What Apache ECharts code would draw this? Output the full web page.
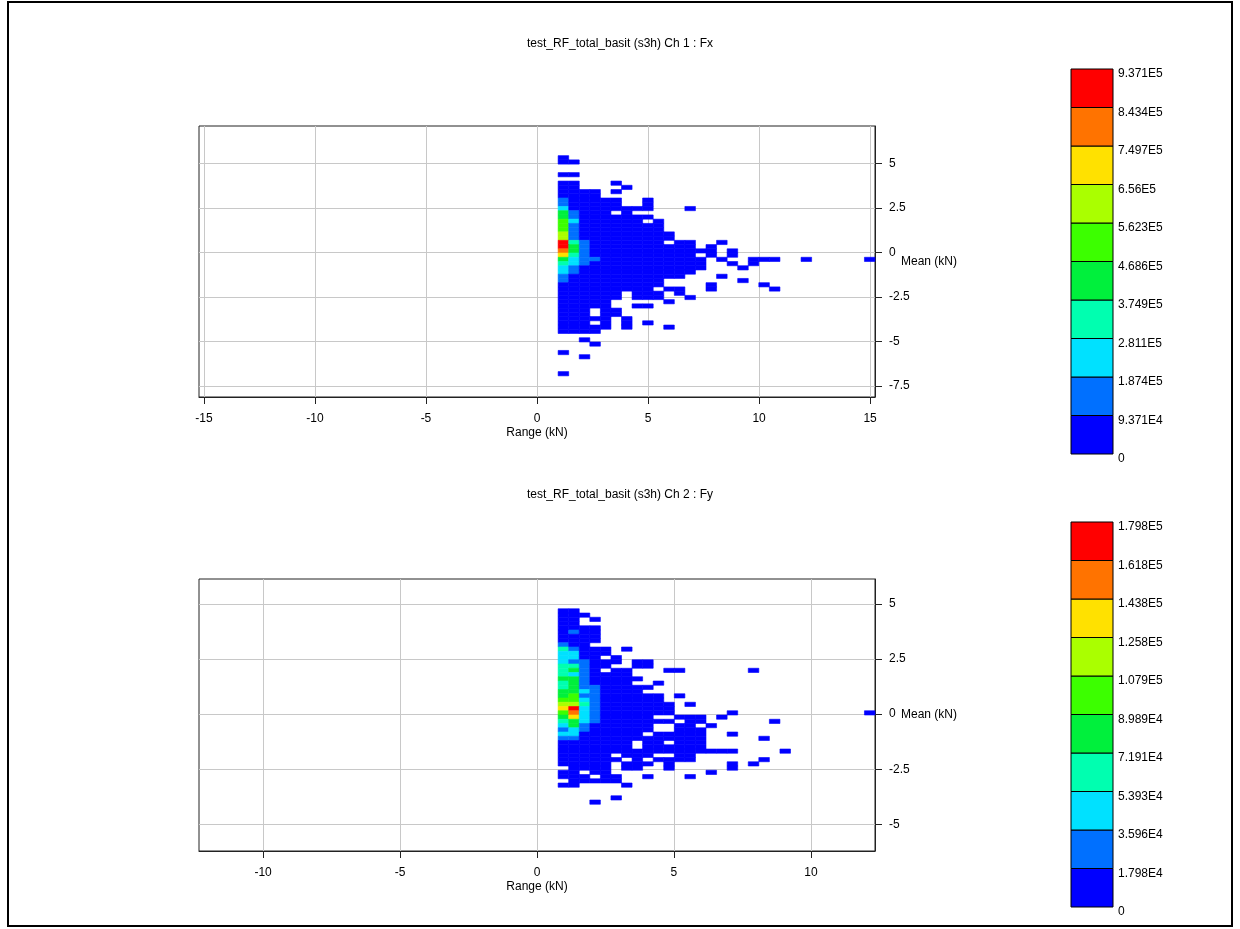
<!DOCTYPE html>
<html>
<head>
<meta charset="utf-8">
<title>Rainflow range-mean</title>
<script src="https://cdn.jsdelivr.net/npm/echarts@6/dist/echarts.min.js"></script>
<style>
html, body { margin: 0; padding: 0; background: #fff; }
#chart { width: 1240px; height: 929px; }
</style>
</head>
<body>
<div id="chart"></div>
<script>
// titles
var fxTitle = 'test_RF_total_basit (s3h) Ch 1 : Fx';
var fyTitle = 'test_RF_total_basit (s3h) Ch 2 : Fy';

// histogram bins: 32 range bins over [0, max range], 64 mean bins over the mean extent
var fxRangeMax = 15.22;
var fxMeanExtent = [-8.11, 7.11];
var fyRangeMax = 12.34;
var fyMeanExtent = [-6.21, 6.13];

// tick labels
var fxRangeTicks = [-15, -10, -5, 0, 5, 10, 15];
var fxMeanTicks = [-7.5, -5, -2.5, 0, 2.5, 5];
var fyRangeTicks = [-10, -5, 0, 5, 10];
var fyMeanTicks = [-5, -2.5, 0, 2.5, 5];

// colour scale
var fxMaxCount = 9.371e5;
var fyMaxCount = 1.798e5;
var fxBandLabels = ['0', '9.371E4', '1.874E5', '2.811E5', '3.749E5', '4.686E5', '5.623E5', '6.56E5', '7.497E5', '8.434E5', '9.371E5'];
var fyBandLabels = ['0', '1.798E4', '3.596E4', '5.393E4', '7.191E4', '8.989E4', '1.079E5', '1.258E5', '1.438E5', '1.618E5', '1.798E5'];
var bandColors = ['#0000ff', '#0070ff', '#00e1ff', '#00ffb0', '#00f03c', '#3cff00', '#aaff00', '#ffe100', '#ff7300', '#ff0000'];

// cells: [mean bin (0 = top), first range bin, colour band per range bin ('.' = empty)]
var fxCells = [
    [7, 2, '0'],
    [8, 2, '00'],
    [11, 2, '00'],
    [13, 2, '00...0'],
    [14, 2, '00....0'],
    [15, 2, '0000.0'],
    [16, 2, '0000'],
    [17, 2, '100000..0'],
    [18, 2, '100000..0'],
    [19, 2, '200000000...0'],
    [20, 2, '41000.0'],
    [21, 2, '410000000'],
    [22, 2, '52000000.0'],
    [23, 2, '5100000000'],
    [24, 2, '5100000000'],
    [25, 2, '61000000000'],
    [26, 2, '61000000000'],
    [27, 2, '9310000000.00..0'],
    [28, 2, '9410000000000.0'],
    [29, 2, '841000000000000.0'],
    [30, 2, '7310000000000.0.0'],
    [31, 2, '42110000000000.0..000..0.....0'],
    [32, 2, '32100000000000..0.0'],
    [33, 2, '21000000000000...0'],
    [34, 2, '2100000000000'],
    [35, 2, '100000000000...0'],
    [36, 2, '1000000000.......0'],
    [37, 2, '0000000000....0....0'],
    [38, 2, '000000000.00..0.....0'],
    [39, 2, '000000.000.0'],
    [40, 2, '000000.000..0'],
    [41, 2, '00000.....0'],
    [42, 2, '00000..00'],
    [43, 2, '000.00'],
    [44, 2, '000.00'],
    [45, 2, '00000.0'],
    [46, 2, '000.0.0.0'],
    [47, 2, '00000.0...0'],
    [48, 2, '0000'],
    [50, 4, '0'],
    [51, 5, '0'],
    [53, 2, '0'],
    [54, 4, '0'],
    [58, 2, '0']
];

var fyCells = [
    [7, 2, '00'],
    [8, 2, '000'],
    [9, 2, '00.0'],
    [10, 2, '00'],
    [11, 2, '0000'],
    [12, 2, '0100'],
    [13, 2, '0000'],
    [14, 2, '0000'],
    [15, 2, '100'],
    [16, 2, '31000.0'],
    [17, 2, '22000'],
    [18, 2, '2200.0'],
    [19, 2, '211000.00'],
    [20, 2, '33100..00'],
    [21, 2, '3410.00...00......0'],
    [22, 2, '3210000'],
    [23, 2, '44100000'],
    [24, 2, '3410000..0'],
    [25, 2, '341100000'],
    [26, 2, '44210000'],
    [27, 2, '4511000000.0'],
    [28, 2, '5521000000'],
    [29, 2, '66310000000.0'],
    [30, 2, '79210000000'],
    [31, 2, '58210000000.....0............0'],
    [32, 2, '472100000..000.0'],
    [33, 2, '34210000000.00......0'],
    [34, 2, '241000000..00.0'],
    [35, 2, '121000000..000'],
    [36, 2, '22000000.00000..0'],
    [37, 2, '11000000000000.....0'],
    [38, 2, '0000000.00.000'],
    [39, 2, '0000000.000000'],
    [40, 2, '00000000000000000....0'],
    [41, 2, '00000.000..00'],
    [42, 2, '000000.0.0000......0'],
    [43, 2, '00000.000.0.....0.0'],
    [44, 3, '0000.00..0.....0'],
    [45, 2, '00.00.........0'],
    [46, 2, '000.00..0...0'],
    [47, 3, '00000'],
    [48, 2, '00....0'],
    [51, 7, '0'],
    [52, 5, '0']
];

var FONT = "'Liberation Sans', Arial, sans-serif";

// turn the cell rows into [range, mean, count] points on the bin centres
function toPoints(cells, rangeMax, meanExtent, maxCount) {
    var binW = rangeMax / 32;
    var binH = (meanExtent[1] - meanExtent[0]) / 64;
    var step = maxCount / 10;
    var out = [];
    cells.forEach(function (row) {
        var s = row[2];
        for (var k = 0; k < s.length; k++) {
            if (s[k] === '.') continue;
            var band = +s[k];
            out.push([(row[1] + k + 0.5) * binW, meanExtent[1] - (row[0] + 0.5) * binH, (band + 0.5) * step]);
        }
    });
    return out;
}

function pieces(maxCount) {
    var step = maxCount / 10;
    return bandColors.map(function (c, k) {
        return {gte: k * step, lt: (k + 1) * step, color: c};
    });
}

function cellRenderer(binW, binH) {
    return function (params, api) {
        var c = api.coord([api.value(0), api.value(1)]);
        var s = api.size([binW, binH]);
        var w = Math.abs(s[0]), h = Math.abs(s[1]);
        var col = api.visual('color');
        return {
            type: 'rect',
            shape: {x: c[0] - w / 2, y: c[1] - h / 2, width: w, height: h},
            style: {fill: col, stroke: col, lineWidth: 0.6}
        };
    };
}

function bandRenderer(params, api) {
    var k = api.value(1);
    var lo = api.coord([0, k]);
    var hi = api.coord([1, k + 1]);
    return {
        type: 'rect',
        shape: {x: lo[0], y: hi[1], width: hi[0] - lo[0], height: lo[1] - hi[1]},
        style: {fill: bandColors[k], stroke: '#000', lineWidth: 1}
    };
}

function rangeAxis(gridIndex, rangeMax, ticks) {
    return {
        type: 'value', gridIndex: gridIndex,
        min: -rangeMax, max: rangeMax,
        name: 'Range (kN)', nameLocation: 'middle', nameGap: 30, nameMoveOverlap: false,
        nameTextStyle: {fontFamily: FONT, fontSize: 12, color: '#000'},
        axisLine: {show: true, onZero: false, lineStyle: {color: '#222', width: 1}},
        axisTick: {show: true, inside: false, length: 7, customValues: ticks, lineStyle: {color: '#222'}},
        axisLabel: {customValues: ticks, margin: 16, fontFamily: FONT, fontSize: 12, color: '#000'},
        splitLine: {show: true, lineStyle: {color: '#c8c8c8', width: 1}}
    };
}

function meanAxis(gridIndex, extent, ticks) {
    return {
        type: 'value', gridIndex: gridIndex, position: 'right',
        min: extent[0], max: extent[1],
        name: 'Mean (kN)', nameLocation: 'middle', nameGap: 26, nameRotate: 0, nameMoveOverlap: false,
        nameTextStyle: {fontFamily: FONT, fontSize: 12, color: '#000', align: 'left', verticalAlign: 'middle'},
        axisLine: {show: true, onZero: false, lineStyle: {color: '#222', width: 1}},
        axisTick: {show: true, inside: false, length: 7, customValues: ticks, lineStyle: {color: '#222'}},
        axisLabel: {customValues: ticks, margin: 14, fontFamily: FONT, fontSize: 12, color: '#000'},
        splitLine: {show: true, lineStyle: {color: '#c8c8c8', width: 1}}
    };
}

function barAxis(gridIndex, labels) {
    return {
        type: 'value', gridIndex: gridIndex, position: 'right',
        min: 0, max: 10, interval: 1,
        axisLine: {show: false}, axisTick: {show: false}, splitLine: {show: false},
        axisLabel: {
            margin: 5, fontFamily: FONT, fontSize: 12, color: '#000',
            verticalAlign: 'top', padding: [-1, 0, 0, 0],
            formatter: function (v) { return labels[Math.round(v)]; }
        }
    };
}

var bandIndex = bandColors.map(function (c, k) { return [0, k]; });

var option = {
    animation: false,
    backgroundColor: '#fff',
    title: [
        {text: fxTitle, left: 'center', top: 33, textStyle: {fontFamily: FONT, fontSize: 12, fontWeight: 'normal', color: '#000'}},
        {text: fyTitle, left: 'center', top: 484, textStyle: {fontFamily: FONT, fontSize: 12, fontWeight: 'normal', color: '#000'}}
    ],
    grid: [
        {left: 199, top: 126, width: 676, height: 271, show: true, borderColor: '#222', borderWidth: 1, backgroundColor: '#fff'},
        {left: 199, top: 579, width: 676, height: 272, show: true, borderColor: '#222', borderWidth: 1, backgroundColor: '#fff'},
        {left: 1071, top: 69, width: 42, height: 385},
        {left: 1071, top: 522, width: 42, height: 385}
    ],
    xAxis: [
        rangeAxis(0, fxRangeMax, fxRangeTicks),
        rangeAxis(1, fyRangeMax, fyRangeTicks),
        {type: 'value', gridIndex: 2, min: 0, max: 1, show: false},
        {type: 'value', gridIndex: 3, min: 0, max: 1, show: false}
    ],
    yAxis: [
        meanAxis(0, fxMeanExtent, fxMeanTicks),
        meanAxis(1, fyMeanExtent, fyMeanTicks),
        barAxis(2, fxBandLabels),
        barAxis(3, fyBandLabels)
    ],
    visualMap: [
        {type: 'piecewise', show: false, seriesIndex: 0, dimension: 2, pieces: pieces(fxMaxCount)},
        {type: 'piecewise', show: false, seriesIndex: 1, dimension: 2, pieces: pieces(fyMaxCount)}
    ],
    series: [
        {
            type: 'custom', name: 'Fx', xAxisIndex: 0, yAxisIndex: 0,
            renderItem: cellRenderer(fxRangeMax / 32, (fxMeanExtent[1] - fxMeanExtent[0]) / 64),
            encode: {x: 0, y: 1},
            data: toPoints(fxCells, fxRangeMax, fxMeanExtent, fxMaxCount)
        },
        {
            type: 'custom', name: 'Fy', xAxisIndex: 1, yAxisIndex: 1,
            renderItem: cellRenderer(fyRangeMax / 32, (fyMeanExtent[1] - fyMeanExtent[0]) / 64),
            encode: {x: 0, y: 1},
            data: toPoints(fyCells, fyRangeMax, fyMeanExtent, fyMaxCount)
        },
        {
            type: 'custom', xAxisIndex: 2, yAxisIndex: 2, silent: true,
            renderItem: bandRenderer, encode: {x: 0, y: 1}, data: bandIndex
        },
        {
            type: 'custom', xAxisIndex: 3, yAxisIndex: 3, silent: true,
            renderItem: bandRenderer, encode: {x: 0, y: 1}, data: bandIndex
        }
    ],
    graphic: [
        {type: 'rect', silent: true, z: 100, shape: {x: 8, y: 2, width: 1224, height: 924},
            style: {fill: null, stroke: '#000', lineWidth: 2}}
    ]
};

var chart = echarts.init(document.getElementById('chart'), null, {renderer: 'canvas'});
chart.setOption(option);
</script>
</body>
</html>
